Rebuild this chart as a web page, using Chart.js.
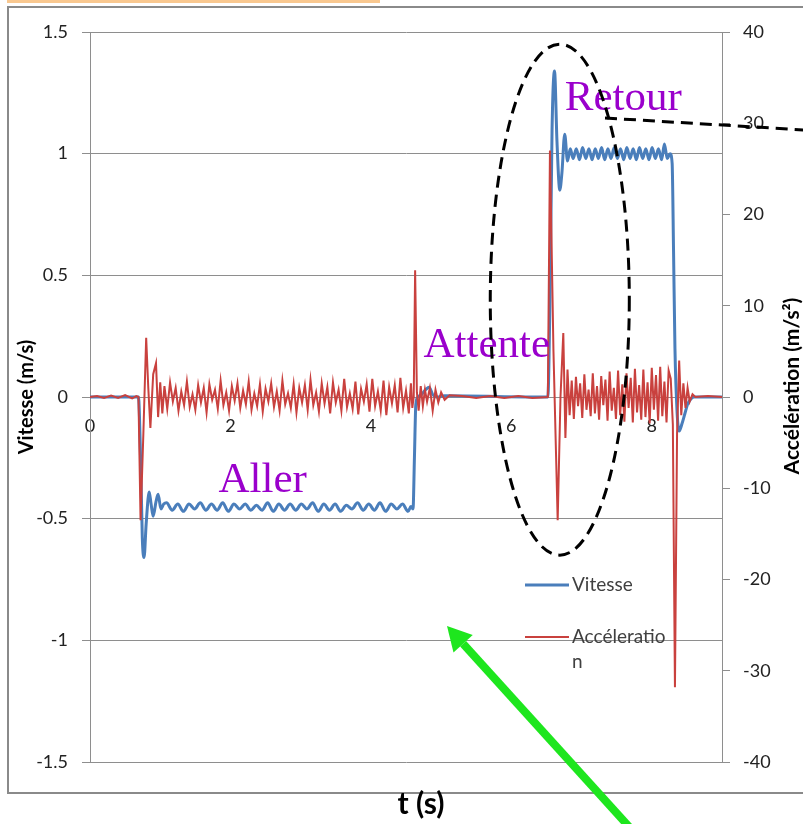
<!DOCTYPE html>
<html>
<head>
<meta charset="utf-8">
<script src="https://cdn.jsdelivr.net/npm/chart.js@4/dist/chart.umd.min.js"></script>
<style>
  html, body { margin: 0; padding: 0; background: #fff; }
  #wrap { position: relative; width: 803px; height: 824px; }
  canvas { display: block; }
</style>
</head>
<body>
<div id="wrap"><canvas id="c" width="803" height="824"></canvas></div>
<script>
// Time axis ticks (s)
const timeTicks = [0, 2, 4, 6, 8];

// Vitesse (m/s) sampled against time (s)
const tVitesse = [
  0, 0.69, 0.72, 0.745, 0.77, 0.80, 0.843, 0.87, 0.90, 0.94, 0.97, 1.01, 1.05,
  1.09, 1.17, 1.25, 1.33, 1.41, 1.49, 1.57, 1.65, 1.73, 1.81, 1.89, 1.97, 2.05, 2.13, 2.21,
  2.29, 2.37, 2.45, 2.53, 2.61, 2.69, 2.77, 2.85, 2.93, 3.01, 3.09, 3.17, 3.25, 3.33, 3.41,
  3.49, 3.57, 3.65, 3.73, 3.81, 3.89, 3.97, 4.05, 4.13, 4.21, 4.29, 4.37, 4.45, 4.53,
  4.57, 4.60, 4.62, 4.64, 4.67, 4.72, 4.78, 4.83, 4.88, 4.94, 5.05, 6.52,
  6.55, 6.58, 6.615, 6.65, 6.69, 6.72, 6.76, 6.80, 6.84,
  6.88, 6.925, 6.97, 7.015, 7.06, 7.105, 7.15, 7.195, 7.24, 7.285, 7.33, 7.375, 7.42, 7.465,
  7.51, 7.555, 7.60, 7.645, 7.69, 7.735, 7.78, 7.825, 7.87, 7.915, 7.96, 8.005, 8.05, 8.095, 8.14,
  8.18, 8.22, 8.26, 8.29, 8.31, 8.33, 8.36, 8.39, 8.43, 8.47, 8.51, 8.55, 8.60, 9.0
];
const vitesse = [
  0, 0, -0.25, -0.58, -0.66, -0.52, -0.39, -0.44, -0.49, -0.43, -0.40, -0.46, -0.44,
  -0.435, -0.465, -0.44, -0.47, -0.44, -0.46, -0.435, -0.465, -0.44, -0.465, -0.435, -0.47, -0.44, -0.46, -0.44,
  -0.465, -0.445, -0.465, -0.435, -0.47, -0.44, -0.465, -0.44, -0.465, -0.44, -0.46, -0.435, -0.47, -0.44, -0.465,
  -0.44, -0.47, -0.445, -0.46, -0.435, -0.465, -0.44, -0.465, -0.435, -0.47, -0.44, -0.46, -0.44, -0.47,
  -0.45, -0.46, -0.25, -0.03, 0.0, 0.01, 0.03, 0.04, 0.01, 0.0, 0.005, 0,
  0.4, 1.1, 1.34, 1.05, 0.85, 0.92, 1.08, 0.97, 1.02,
  0.98, 1.02, 0.975, 1.025, 0.98, 1.02, 0.975, 1.02, 0.98, 1.025, 0.975, 1.02, 0.98, 1.025,
  0.98, 1.02, 0.975, 1.025, 0.98, 1.02, 0.975, 1.025, 0.98, 1.02, 0.975, 1.025, 0.98, 1.02, 0.975,
  1.04, 0.98, 1.0, 0.96, 0.6, 0.2, -0.06, -0.14, -0.11, -0.07, -0.03, -0.01, 0, 0
];

// Accélération (m/s²) sampled against time (s)
const tAcceleration = [
  0, 0.1, 0.2, 0.3, 0.4, 0.5, 0.6, 0.66, 0.69, 0.72, 0.76, 0.80, 0.83, 0.86, 0.90, 0.94, 0.97, 1.00, 1.03,
  1.06, 1.10, 1.14, 1.18, 1.22, 1.26, 1.30, 1.34, 1.38, 1.42, 1.46, 1.50, 1.54, 1.58, 1.62, 1.66,
  1.70, 1.74, 1.78, 1.82, 1.86, 1.90, 1.94, 1.98, 2.02, 2.06, 2.10, 2.14, 2.18, 2.22, 2.26, 2.30,
  2.34, 2.38, 2.42, 2.46, 2.50, 2.54, 2.58, 2.62, 2.66, 2.70, 2.74, 2.78, 2.82, 2.86, 2.90, 2.94,
  2.98, 3.02, 3.06, 3.10, 3.14, 3.18, 3.22, 3.26, 3.30, 3.34, 3.38, 3.42, 3.46, 3.50, 3.54, 3.58,
  3.62, 3.66, 3.70, 3.74, 3.78, 3.82, 3.86, 3.90, 3.94, 3.98, 4.02, 4.06, 4.10, 4.14, 4.18, 4.22,
  4.26, 4.30, 4.34, 4.38, 4.42, 4.46, 4.50, 4.54,
  4.57, 4.59, 4.61, 4.63, 4.655, 4.68, 4.71, 4.74, 4.77, 4.80, 4.84, 4.88, 4.92, 4.96, 5.00, 5.05,
  5.12, 5.3, 5.5, 5.7, 5.9, 6.1, 6.3, 6.52,
  6.55, 6.60, 6.66, 6.70, 6.74, 6.77, 6.80,
  6.83, 6.86, 6.89, 6.92, 6.95, 6.98, 7.01, 7.04, 7.07, 7.10, 7.13, 7.16, 7.19, 7.22, 7.25, 7.28,
  7.31, 7.34, 7.37, 7.40, 7.43, 7.46, 7.49, 7.52, 7.55, 7.58, 7.61, 7.64, 7.67, 7.70, 7.73, 7.76,
  7.79, 7.82, 7.85, 7.88, 7.91, 7.94, 7.97, 8.00, 8.03, 8.06, 8.09, 8.12, 8.15, 8.18, 8.21, 8.24,
  8.27, 8.30, 8.33, 8.36, 8.39, 8.42, 8.45, 8.48, 8.51, 8.54, 8.58, 8.62, 8.8, 9.0
];
const acceleration = [
  0, 0.1, -0.1, 0.15, -0.1, 0.2, -0.15, 0.1, 0, -13.5, -4, 6.5, 1, -3.4, 2.5, 3.7, -2.2, 1.6, -1.8,
  1.2, -1.3, 1.6, -0.5, 1.0, -1.5, 0.6, -0.9, 1.7, -1.1, 0.3, -1.4, 1.3, -0.6, 1.0, -1.7,
  1.4, -0.3, 0.8, -1.3, 1.8, -0.9, 0.5, -1.5, 1.2, -0.4, 1.5, -1.2, 0.7, -0.8, 1.7, -1.4,
  0.4, -1.0, 1.4, -1.6, 0.9, -0.5, 1.5, -1.1, 0.6, -1.5, 1.8, -0.8, 0.4, -1.2, 1.4, -1.7,
  1.0, -0.6, 1.3, -1.4, 1.9, -0.9, 0.5, -1.6, 1.5, -0.7, 1.1, -1.8, 1.6, -0.6, 0.8, -1.5,
  2.0, -1.1, 0.4, -1.3, 1.7, -1.9, 0.9, -0.5, 1.4, -1.6, 2.0, -1.0, 0.6, -1.5, 1.8, -2.0,
  1.1, -0.7, 1.3, -1.7, 2.1, -1.2, 0.7, -1.8,
  1.5, -1.2, 0, 13.9, 0.5, -1.5, 1.2, -1.0, 0.8, -0.5, 1.0, -1.5, 0.8, -0.6, 0.5, -0.3,
  0.2, 0.1, -0.1, 0.1, -0.1, 0.1, -0.1, 0,
  27, 5, -13.5, 0, 7, -4.5, 3,
  -2.0, 1.8, -2.4, 2.2, -1.0, 1.5, -2.3, 2.5, -1.4, 0.8, -2.1, 2.6, -1.8, 1.2, -2.5, 2.3,
  -0.9, 1.9, -2.6, 2.8, -1.5, 1.0, -2.4, 2.9, -2.0, 1.4, -2.7, 2.6, -1.2, 2.1, -2.8, 3.1,
  -1.7, 1.3, -2.5, 3.0, -2.2, 1.6, -2.9, 3.2, -1.4, 2.4, -2.6, 3.3, -2.1, 1.7, -2.8, 2.9,
  2, -3, -31.8, -4, 4, -2, 1.5, -1.2, 1.0, -0.5, 0.3, 0, 0.1, 0
];

const BLUE = '#4a7ebb';
const RED = '#c9413e';
const GRID = '#8e8e8e';
const TICK_FONT = { family: 'Lato', size: 18 };

// Frame, annotations, custom legend and the secondary axis title
const decorations = {
  id: 'decorations',
  beforeDraw(chart) {
    const ctx = chart.ctx;
    ctx.save();
    ctx.fillStyle = '#fff';
    ctx.fillRect(0, 0, chart.width, chart.height);
    ctx.fillStyle = '#f9c890';
    ctx.fillRect(7, 0, 373, 3);
    ctx.strokeStyle = '#8a8a8a';
    ctx.lineWidth = 2;
    ctx.strokeRect(8, 7, chart.width + 10, 786);
    ctx.restore();
  },
  afterDatasetsDraw(chart) {
    const ctx = chart.ctx;
    const x = chart.scales.x, y = chart.scales.y;
    ctx.save();

    // Phase labels
    ctx.fillStyle = '#9a00cc';
    ctx.font = '43px "Liberation Serif"';
    ctx.textBaseline = 'alphabetic';
    ctx.textAlign = 'left';
    ctx.fillText('Aller', x.getPixelForValue(1.83), y.getPixelForValue(-0.39));
    ctx.fillText('Attente', x.getPixelForValue(4.75), y.getPixelForValue(0.165));
    ctx.fillText('Retour', x.getPixelForValue(6.76), y.getPixelForValue(1.18));

    // Dashed ellipse around the start of the return phase
    ctx.strokeStyle = '#000';
    ctx.lineWidth = 3;
    ctx.setLineDash([12, 7]);
    ctx.beginPath();
    const cx = x.getPixelForValue(6.69), cy = y.getPixelForValue(0.40);
    const rx = x.getPixelForValue(7.68) - x.getPixelForValue(6.69);
    const ry = y.getPixelForValue(-0.65) - cy;
    ctx.ellipse(cx, cy, rx, ry, 0, 0, Math.PI * 2);
    ctx.stroke();
    ctx.beginPath();
    ctx.moveTo(605, 118);
    ctx.lineTo(chart.width + 2, 130);
    ctx.stroke();
    ctx.setLineDash([]);

    // Green arrow pointing into the plot
    const tipX = 447, tipY = 626, tailX = 632, tailY = 830;
    const ang = Math.atan2(tipY - tailY, tipX - tailX);
    const headLen = 24, headHalf = 13;
    const bx = tipX - Math.cos(ang) * headLen, by = tipY - Math.sin(ang) * headLen;
    ctx.strokeStyle = '#1ee61e';
    ctx.fillStyle = '#1ee61e';
    ctx.lineWidth = 8;
    ctx.beginPath();
    ctx.moveTo(tailX, tailY);
    ctx.lineTo(bx, by);
    ctx.stroke();
    ctx.beginPath();
    ctx.moveTo(tipX, tipY);
    ctx.lineTo(bx + Math.sin(ang) * headHalf, by - Math.cos(ang) * headHalf);
    ctx.lineTo(bx - Math.sin(ang) * headHalf, by + Math.cos(ang) * headHalf);
    ctx.closePath();
    ctx.fill();

    // Legend
    ctx.font = '19px Lato';
    ctx.textBaseline = 'middle';
    const legendRows = [585, 637];
    chart.data.datasets.forEach((ds, i) => {
      const ly = legendRows[i];
      ctx.strokeStyle = ds.borderColor;
      ctx.lineWidth = ds.borderWidth;
      ctx.beginPath();
      ctx.moveTo(525, ly);
      ctx.lineTo(569, ly);
      ctx.stroke();
      ctx.fillStyle = '#404040';
      // wrap the label character by character inside the legend width
      const lines = [];
      let cur = '';
      for (const ch of ds.label) {
        if (ctx.measureText(cur + ch).width > 100 && cur) { lines.push(cur); cur = ch; }
        else cur += ch;
      }
      lines.push(cur);
      lines.forEach((ln, k) => ctx.fillText(ln, 572, ly + k * 25));
    });

    // Secondary axis title
    ctx.fillStyle = '#000';
    ctx.font = 'bold 21px Lato';
    ctx.textAlign = 'center';
    ctx.save();
    ctx.translate(792, 386);
    ctx.rotate(-Math.PI / 2);
    ctx.fillText('Accélération (m/s²)', 0, 0);
    ctx.restore();

    // Time axis title
    ctx.font = 'bold 30px Lato';
    ctx.fillText('t (s)', 421, 804);
    ctx.restore();
  }
};

new Chart(document.getElementById('c'), {
  type: 'line',
  data: {
    datasets: [
      {
        label: 'Vitesse',
        data: tVitesse.map((t, i) => ({ x: t, y: vitesse[i] })),
        borderColor: BLUE,
        borderWidth: 3,
        pointRadius: 0,
        cubicInterpolationMode: 'monotone',
        yAxisID: 'y',
        order: 2
      },
      {
        label: 'Accéleration',
        data: tAcceleration.map((t, i) => ({ x: t, y: acceleration[i] })),
        borderColor: RED,
        borderWidth: 2,
        pointRadius: 0,
        tension: 0,
        yAxisID: 'y2',
        order: 1
      }
    ]
  },
  options: {
    responsive: false,
    animation: false,
    devicePixelRatio: 1,
    layout: { padding: { left: 8, top: 32, right: 0, bottom: 62 } },
    plugins: { legend: { display: false }, tooltip: { enabled: false } },
    scales: {
      x: {
        type: 'linear',
        position: { y: 0 },
        min: 0,
        max: 9,
        afterBuildTicks: (s) => { s.ticks = timeTicks.map(v => ({ value: v })); },
        ticks: { font: TICK_FONT, color: '#222', padding: 18, maxRotation: 0 },
        grid: { display: false, drawTicks: false },
        border: { display: true, color: GRID, width: 1 }
      },
      y: {
        position: 'left',
        min: -1.5,
        max: 1.5,
        ticks: { stepSize: 0.5, font: TICK_FONT, color: '#222', padding: 14, callback: (v) => String(v) },
        grid: { color: GRID, lineWidth: 1, tickLength: 8 },
        border: { color: GRID, width: 1 },
        title: {
          display: true,
          text: 'Vitesse (m/s)',
          color: '#000',
          font: { family: 'Lato', size: 20, weight: 'bold' },
          padding: { top: 7, bottom: 0 }
        },
        afterFit: (s) => { s.width = 82; }
      },
      y2: {
        position: 'right',
        min: -40,
        max: 40,
        ticks: { stepSize: 10, font: TICK_FONT, color: '#222', padding: 13, callback: (v) => String(v) },
        grid: { drawOnChartArea: false, color: GRID, tickLength: 8 },
        border: { color: GRID, width: 1 },
        afterFit: (s) => { s.width = 81; }
      }
    }
  },
  plugins: [decorations]
});
</script>
</body>
</html>
